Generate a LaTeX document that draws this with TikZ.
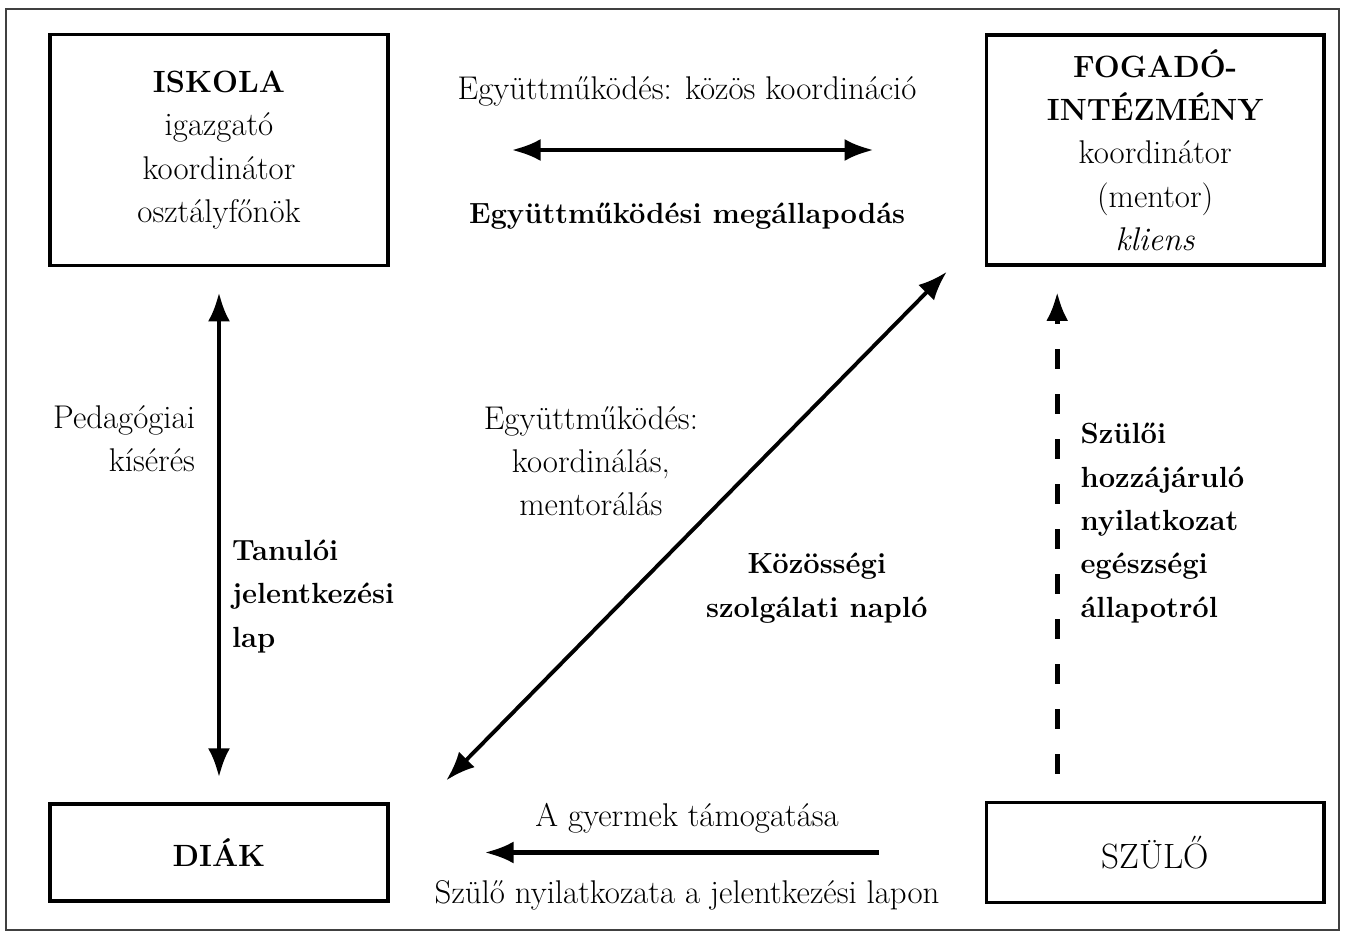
\documentclass[tikz,border=0pt]{standalone}
\usepackage{fontspec}
\usetikzlibrary{positioning,arrows.meta}
\newcommand{\hd}[1]{{\fontsize{17.5}{24.7}\selectfont\bfseries #1}}

\begin{document}
\begin{tikzpicture}[x=0.02cm, y=-0.02cm, ->, >={Latex[length=5.8mm,width=4.4mm]}, semithick, node distance=10.7cm and 11.9cm,
  every node/.style={font=\fontsize{18.7}{24.7}\selectfont},
  bold/.style={font=\fontsize{16.6}{24.7}\selectfont\bfseries},
  box/.style={rectangle, draw, line width=2.2pt, minimum width=6.75cm, align=center},
  link/.style={line width=2.5pt}]
	\useasboundingbox (0,0) rectangle (1351,937);
	\draw[-, line width=1pt, black!75] (6,9) rectangle (1339,930);
	\node[box, minimum height=4.62cm] (A) at (219,150) {\hd{ISKOLA}\\igazgató\\koordinátor\\osztályfőnök};
	\node[box, minimum height=4.6cm] (B) [right = of A] {\hd{FOGADÓ-}\\\hd{INTÉZMÉNY}\\koordinátor\\(mentor)\\\textit{kliens}};
	\node[box, minimum height=1.93cm] (C) [below = of A] {\hd{DIÁK}};
	\node[box, minimum height=2cm] (D) [right = of C] {\fontsize{20}{24.7}\selectfont SZÜLŐ};
	\path (A) edge [link, <->, shorten <=2.44cm, shorten >=2.22cm] node[above=0.72cm] {Együttműködés: közös koordináció} node[below=0.9cm, bold] {Együttműködési megállapodás} (B);
	\path (A) edge [link, <->, shorten <=0.5cm, shorten >=0.5cm] node[pos=0.32, left=0.32cm, align=right] {Pedagógiai\\kísérés} node[pos=0.615, right=0.1cm, bold, align=left] {Tanulói\\jelentkezési\\lap} (C);
	\path ([xshift=0.7cm]C.north east) edge [link, line width=2.2pt, <->, shorten <=0.62cm, shorten >=0.14cm] node[pos=0.637, left=1.09cm, align=center] {Együttműködés:\\koordinálás,\\mentorálás} node[pos=0.4, right=1.26cm, bold, align=center] {Közösségi\\szolgálati napló} ([xshift=-0.66cm]B.south west);
	\path ([xshift=-1.96cm]D.north) edge [link, line width=2.8pt, dash pattern=on 0.4cm off 0.5cm, shorten <=0.54cm, shorten >=0.5cm] node[pos=0.52, right=0.3cm, bold, align=left] {Szülői\\hozzájáruló\\nyilatkozat\\egészségi\\állapotról} ([xshift=-1.96cm]B.south);
	\path (D) edge [link, shorten <=2.12cm, shorten >=1.9cm] node[above=0.22cm] {A gyermek támogatása} node[below=0.4cm] {Szülő nyilatkozata a jelentkezési lapon} (C);
\end{tikzpicture}
\end{document}
